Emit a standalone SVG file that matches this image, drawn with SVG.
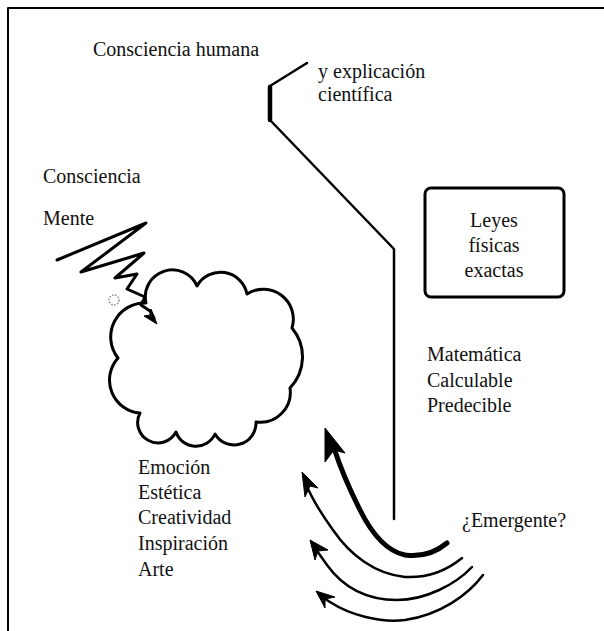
<svg xmlns="http://www.w3.org/2000/svg" width="604" height="631" viewBox="0 0 604 631">
<style>
text{font-family:"Liberation Serif","Times New Roman",serif;font-size:20px;fill:#111}
.ln{fill:none;stroke:#000;stroke-linecap:round;stroke-linejoin:round}
.ah{fill:#000;stroke:#000;stroke-width:1;stroke-linejoin:round}
</style>
<rect width="604" height="631" fill="#fff"/>
<path d="M8,631 V8 H604" class="ln" stroke-width="2"/>

<g id="title">
<text x="93" y="56">Consciencia humana</text>
</g>
<g id="explicacion">
<text x="318" y="78">y explicación</text>
<text x="318" y="101">científica</text>
</g>
<g id="consciencia">
<text x="43" y="183">Consciencia</text>
</g>
<g id="mente">
<text x="43" y="225">Mente</text>
</g>
<g id="leyes">
<rect x="425" y="188" width="139" height="109" rx="6" fill="none" stroke="#000" stroke-width="3"/>
<text x="494" y="227" text-anchor="middle">Leyes</text>
<text x="494" y="252" text-anchor="middle">físicas</text>
<text x="494" y="277" text-anchor="middle">exactas</text>
</g>
<g id="matematica">
<text x="427" y="361">Matemática</text>
<text x="427" y="387">Calculable</text>
<text x="427" y="412">Predecible</text>
</g>
<g id="emocion">
<text x="138" y="474">Emoción</text>
<text x="138" y="499">Estética</text>
<text x="138" y="524">Creatividad</text>
<text x="138" y="550">Inspiración</text>
<text x="138" y="576">Arte</text>
</g>
<g id="emergente">
<text x="462" y="527">¿Emergente?</text>
</g>
<g id="cloud">
<path class="ln" stroke-width="3" d="M146,303 A27,27 0 0 1 197,286 A27,27 0 0 1 247,294 A30,30 0 0 1 292,328 A45,45 0 0 1 290,388 A30,30 0 0 1 256,422 A22,22 0 0 1 215,434 A21,21 0 0 1 176,432 A20,20 0 0 1 140,413 A33,33 0 0 1 118,358 A34,34 0 0 1 146,303 Z"/>
<circle cx="114" cy="300" r="5" fill="none" stroke="#888" stroke-width="1.5" stroke-dasharray="1.5 1.5"/>
</g>

<g id="connectors">
<path class="ln" stroke-width="2.5" d="M307,63 L270,86 L270,120 L394,249 L394,519"/>
<path class="ln" stroke-width="4.5" d="M270,87 L270,120"/>
<path class="ln" stroke-width="3" d="M57,260 L146,223 L81,272 L144,253 L115,278 L137,274 L127,289 L145,297 L141,305 L150,311 L154,318"/>
<polygon class="ah" points="157,324 144,316 150,315 151,309"/>

<path class="ln" stroke-width="5" d="M447,543 C435,553 420,557 405,555 C385,551 370,530 360,510 C350,490 341,470 334,448"/>
<polygon class="ah" points="325,428 325,462 334,450 345,453"/>

<path class="ln" stroke-width="2.5" d="M462,558 C445,572 425,578 405,577 C375,574 350,555 333,530 C320,512 311,497 305,482"/>
<polygon class="ah" points="302,472 305,497 310,486 318,488"/>

<path class="ln" stroke-width="2.5" d="M472,567 C455,585 425,600 397,600 C370,600 345,590 327,565 L315,548"/>
<polygon class="ah" points="310,540 315,560 318,551 328,550"/>

<path class="ln" stroke-width="2.5" d="M483,575 C468,595 440,615 405,620 C380,623 350,615 330,602 L322,597"/>
<polygon class="ah" points="316,591 325,608 325,599 335,597"/>
</g>
</svg>
